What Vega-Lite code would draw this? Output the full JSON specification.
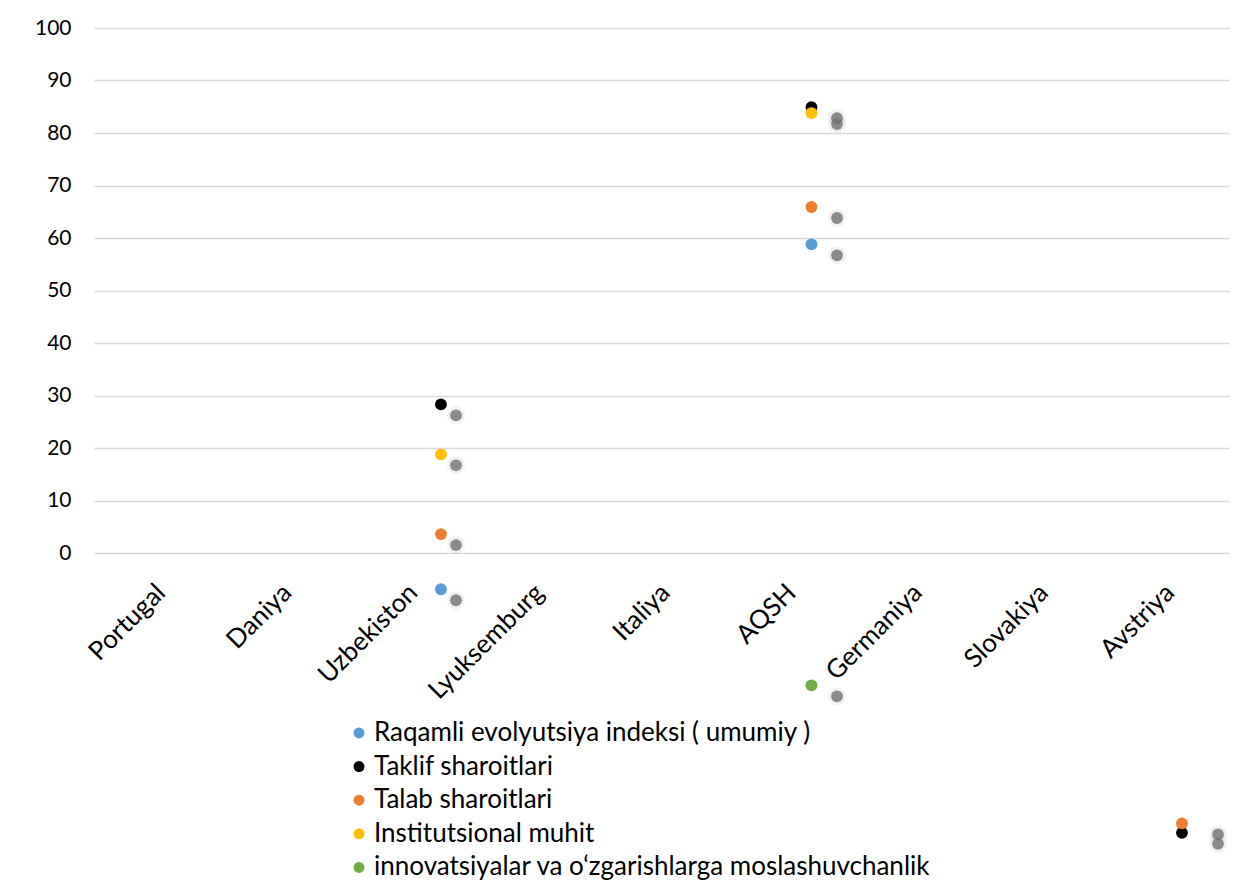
{
  "$schema": "https://vega.github.io/schema/vega-lite/v6.json",
  "width": 1135,
  "height": 525,
  "autosize": {"type": "none"},
  "padding": {"left": 94, "top": 28, "right": 20, "bottom": 328},
  "background": "white",
  "config": {"view": {"stroke": null}, "font": "Lato"},
  "data": {
    "values": [
      {"country": "Uzbekiston", "series": "Raqamli evolyutsiya indeksi ( umumiy )", "value": -6.9},
      {"country": "AQSH", "series": "Raqamli evolyutsiya indeksi ( umumiy )", "value": 58.8},
      {"country": "Uzbekiston", "series": "Taklif sharoitlari", "value": 28.3},
      {"country": "AQSH", "series": "Taklif sharoitlari", "value": 84.9},
      {"country": "Avstriya", "series": "Taklif sharoitlari", "value": -53.3},
      {"country": "Uzbekiston", "series": "Talab sharoitlari", "value": 3.6},
      {"country": "AQSH", "series": "Talab sharoitlari", "value": 65.9},
      {"country": "Avstriya", "series": "Talab sharoitlari", "value": -51.5},
      {"country": "Uzbekiston", "series": "Institutsional muhit", "value": 18.8},
      {"country": "AQSH", "series": "Institutsional muhit", "value": 83.8},
      {"country": "AQSH", "series": "innovatsiyalar va o‘zgarishlarga moslashuvchanlik", "value": -25.2}
    ]
  },
  "layer": [
    {
      "mark": {"type": "tick", "opacity": 0},
      "encoding": {
        "x": {
          "field": "country",
          "type": "nominal",
          "sort": null,
          "scale": {"type": "band", "domain": ["Portugal", "Daniya", "Uzbekiston", "Lyuksemburg", "Italiya", "AQSH", "Germaniya", "Slovakiya", "Avstriya"], "paddingInner": 0, "paddingOuter": 0},
          "axis": {"title": null, "labelAngle": -45, "labelAlign": "right", "labelBaseline": "top", "labelPadding": 26, "labelOffset": -5, "labelFontSize": 26, "labelColor": "#000000", "ticks": false, "domain": false, "grid": false}
        }
      }
    },
    {
      "mark": {"type": "point", "filled": true, "size": 140, "fill": "#6e6e6e", "fillOpacity": 0.8, "stroke": "#8a8a8a", "strokeOpacity": 0.12, "strokeWidth": 6, "yOffset": 11, "clip": false},
      "encoding": {
        "x": {
          "field": "country",
          "type": "nominal",
          "sort": null,
          "scale": {"type": "point", "domain": ["Portugal", "Daniya", "Uzbekiston", "Lyuksemburg", "Italiya", "AQSH", "Germaniya", "Slovakiya", "Avstriya"], "padding": 0.4685, "align": 0.9076},
          "axis": null
        },
        "y": {"field": "value", "type": "quantitative", "scale": {"domain": [0, 100], "nice": false, "zero": false}}
      }
    },
    {
      "mark": {"type": "point", "filled": true, "size": 140, "opacity": 1, "clip": false},
      "encoding": {
        "x": {
          "field": "country",
          "type": "nominal",
          "sort": null,
          "scale": {"type": "point", "domain": ["Portugal", "Daniya", "Uzbekiston", "Lyuksemburg", "Italiya", "AQSH", "Germaniya", "Slovakiya", "Avstriya"], "padding": 0.595, "align": 0.68},
          "axis": null
        },
        "y": {
          "field": "value",
          "type": "quantitative",
          "scale": {"domain": [0, 100], "nice": false, "zero": false},
          "axis": {"title": null, "values": [0, 10, 20, 30, 40, 50, 60, 70, 80, 90, 100], "grid": true, "gridColor": "#d9d9d9", "gridWidth": 1.5, "domain": false, "ticks": false, "labelPadding": 23, "labelFontSize": 21, "labelColor": "#000000"}
        },
        "color": {
          "field": "series",
          "type": "nominal",
          "sort": null,
          "scale": {
            "domain": ["Raqamli evolyutsiya indeksi ( umumiy )", "Taklif sharoitlari", "Talab sharoitlari", "Institutsional muhit", "innovatsiyalar va o‘zgarishlarga moslashuvchanlik"],
            "range": ["#5B9BD5", "#000000", "#ED7D31", "#FFC000", "#70AD47"]
          },
          "legend": {"title": null, "orient": "none", "legendX": 252, "legendY": 692, "symbolType": "circle", "symbolSize": 120, "labelFontSize": 26, "labelColor": "#000000", "rowPadding": 7.6, "labelLimit": 900, "labelOffset": 2, "padding": 0, "symbolStrokeWidth": 0}
        }
      }
    }
  ],
  "resolve": {"scale": {"x": "independent"}}
}
